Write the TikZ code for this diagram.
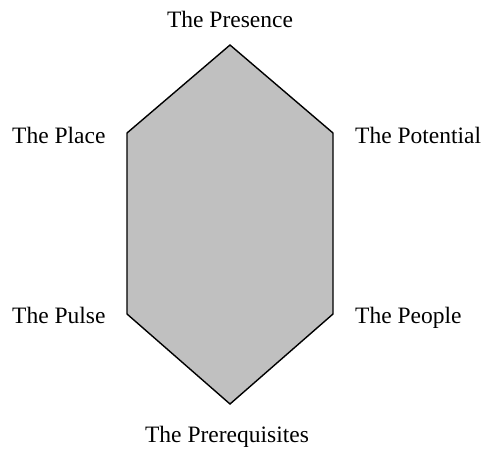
\documentclass[tikz,border=0pt]{standalone}
\usepackage{fontspec}
\setmainfont{Liberation Serif}
\definecolor{hexgray}{HTML}{C0C0C0}
\tikzset{lbl/.style={inner sep=0pt, font=\fontsize{23.5}{28}\selectfont}}
\begin{document}
\begin{tikzpicture}[x=1pt,y=-1pt]
\useasboundingbox (0,0) rectangle (482,450);
\coordinate (top) at (230,45);
\coordinate (ur) at (333,133);
\coordinate (lr) at (333,314);
\coordinate (bot) at (230,404);
\coordinate (ll) at (127,314);
\coordinate (ul) at (127,133);
\draw[line width=1.4pt, line join=miter, fill=hexgray] (top) -- (ur) -- (lr) -- (bot) -- (ll) -- (ul) -- cycle;

\node[lbl, anchor=base] (presence) at (230,27) {The Presence};
\node[lbl, anchor=base west] (place) at (12,143) {The Place};
\node[lbl, anchor=base west] (potential) at (355,143) {The Potential};
\node[lbl, anchor=base west] (pulse) at (12,323) {The Pulse};
\node[lbl, anchor=base west] (people) at (355,323) {The People};
\node[lbl, anchor=base] (prereq) at (227,442) {The Prerequisites};
\end{tikzpicture}
\end{document}
